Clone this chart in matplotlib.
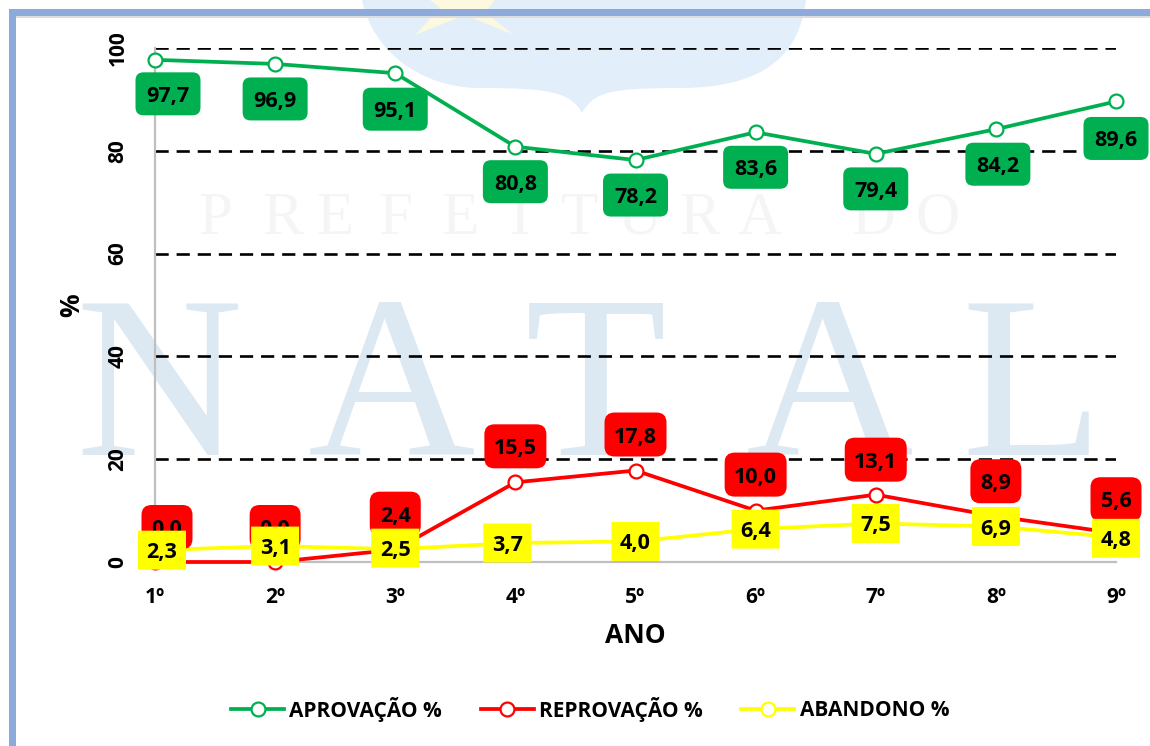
import numpy as np
import matplotlib
matplotlib.use('Agg')
import matplotlib.pyplot as plt
from matplotlib.patches import FancyBboxPatch, Rectangle, PathPatch, Polygon
from matplotlib.path import Path
from matplotlib.transforms import IdentityTransform

anos = ['1º', '2º', '3º', '4º', '5º', '6º', '7º', '8º', '9º']
aprovacao = [97.7, 96.9, 95.1, 80.8, 78.2, 83.6, 79.4, 84.2, 89.6]
reprovacao = [0.0, 0.0, 2.4, 15.5, 17.8, 10.0, 13.1, 8.9, 5.6]
abandono = [2.3, 3.1, 2.5, 3.7, 4.0, 6.4, 7.5, 6.9, 4.8]
y_ticks = [0, 20, 40, 60, 80, 100]

# label offsets from the point, in pixels (x right, y down)
off_verde = [(13, 34), (0, 35), (0, 36), (0, 35), (0, 35), (0, 35), (0, 35), (2, 35), (0, 37)]
off_verm = [(12, -35), (0, -35), (0, -36), (0, -36), (0, -36), (0, -36), (0, -35), (0, -35), (0, -34)]
off_amar = [(7, 0), (0, 0), (0, -1), (-8, 0), (0, 0), (0, 0), (0, 0), (0, 0), (0, 1)]

VERDE = '#00b050'
VERM = '#ff0000'
AMAR = '#ffff00'

plt.rcParams['font.family'] = ['Open Sans', 'DejaVu Sans']
plt.rcParams['font.weight'] = 'bold'
plt.rcParams['axes.labelweight'] = 'bold'

fig = plt.figure(figsize=(11.5, 7.46), dpi=100, facecolor='white')

# background in pixel coords: watermark and frame
bg = fig.add_axes([0, 0, 1, 1], zorder=0)
bg.set_xlim(0, 1150)
bg.set_ylim(746, 0)
bg.axis('off')

brasao = Path(
    [(362, 0), (372, 50), (420, 88), (480, 88), (550, 88), (570, 92), (582, 113),
     (594, 92), (610, 88), (680, 88), (770, 88), (800, 50), (806, 0), (362, 0)],
    [Path.MOVETO, Path.CURVE4, Path.CURVE4, Path.CURVE4, Path.CURVE4, Path.CURVE4, Path.CURVE4,
     Path.CURVE4, Path.CURVE4, Path.CURVE4, Path.CURVE4, Path.CURVE4, Path.CURVE4, Path.CLOSEPOLY])
bg.add_patch(PathPatch(brasao, fc='#e2effb', ec='none'))
bg.add_patch(Polygon([(415, 35), (440, 8), (430, 0), (495, 0), (485, 12), (512, 34), (465, 15)],
                     fc='#fdf9e0', ec='none'))

for letra, xp in zip('NATAL', [159, 392, 596, 830, 1032]):
    bg.text(xp, 455, letra, family='Liberation Serif', fontweight='normal', fontsize=167,
            color='#dde9f2', ha='center', va='baseline')
for letra, xp in zip('PREFEITURADO', [215, 283, 335, 395, 460, 520, 580, 640, 700, 760, 873, 938]):
    bg.text(xp, 234, letra, family='Liberation Serif', fontweight='normal', fontsize=44,
            color='#f5f5f5', ha='center', va='baseline')

bg.add_patch(Rectangle((9, 9), 1141, 6.5, fc='#8eaadb', ec='none'))
bg.add_patch(Rectangle((15, 15.5), 1135, 2, fc='#dddddd', ec='none'))
bg.add_patch(Rectangle((9, 9), 6.5, 737, fc='#8eaadb', ec='none'))

# main chart
ax = fig.add_axes([155 / 1150, 1 - 562 / 746, (1116 - 155) / 1150, (562 - 48) / 746], zorder=1)
ax.patch.set_alpha(0)
x = np.arange(len(anos))

for s in ['top', 'right']:
    ax.spines[s].set_visible(False)
for s in ['left', 'bottom']:
    ax.spines[s].set_color('#bfbfbf')
    ax.spines[s].set_linewidth(1.6)

ax.set_xlim(0, 8)
ax.set_ylim(0, 100)
ax.set_yticks(y_ticks)
ax.set_xticks(x)
ax.set_xticklabels(anos, fontsize=15)
ax.tick_params(length=0)
ax.tick_params(axis='x', pad=18)
ax.tick_params(axis='y', pad=19, labelsize=15, labelrotation=90)
for t in ax.get_yticklabels():
    t.set_va('center')
ax.yaxis.grid(True, color='black', linewidth=1.9, linestyle=(0, (5, 3)))
ax.set_axisbelow(True)

ax.set_xlabel('ANO', fontsize=19, labelpad=10)
ax.set_ylabel('%', fontsize=19, labelpad=16)

series = [('APROVAÇÃO %', aprovacao, VERDE), ('REPROVAÇÃO %', reprovacao, VERM), ('ABANDONO %', abandono, AMAR)]
for nome, vals, cor in series:
    ax.plot(x, vals, color=cor, linewidth=2.7, marker='o', markersize=10, markerfacecolor='white',
            markeredgecolor=cor, markeredgewidth=1.6, clip_on=False, label=nome, zorder=3)


def rotulos(vals, offs, cor, w_curto, w_longo, h, raio, z):
    for i, v in enumerate(vals):
        txt = ('%.1f' % v).replace('.', ',')
        w = w_curto if len(txt) == 3 else w_longo
        px, py = ax.transData.transform((i, v))
        cx = px + offs[i][0]
        cy = py - offs[i][1]
        ax.add_patch(FancyBboxPatch((cx - w / 2 + raio, cy - h / 2 + raio), w - 2 * raio, h - 2 * raio,
                                    boxstyle='round,pad=%g,rounding_size=%g' % (raio, raio),
                                    fc=cor, ec='none', transform=IdentityTransform(), clip_on=False, zorder=z))
        ax.text(cx, cy, txt, transform=IdentityTransform(), fontsize=15.5,
                color='black', ha='center', va='center_baseline', zorder=z + 0.1, clip_on=False)


rotulos(aprovacao, off_verde, VERDE, 65, 65, 43, 8, 5)
rotulos(reprovacao, off_verm, VERM, 51, 62, 44, 10, 6)
rotulos(abandono, off_amar, AMAR, 48, 48, 39, 0.01, 7)

leg = ax.legend(loc='center', bbox_to_anchor=((590 - 155) / 961, (562 - 709) / 514), ncol=3, frameon=False,
                fontsize=15, handlelength=2.55, handletextpad=0.25, columnspacing=1.85, borderpad=0)

fig.savefig('out.png', dpi=100)
